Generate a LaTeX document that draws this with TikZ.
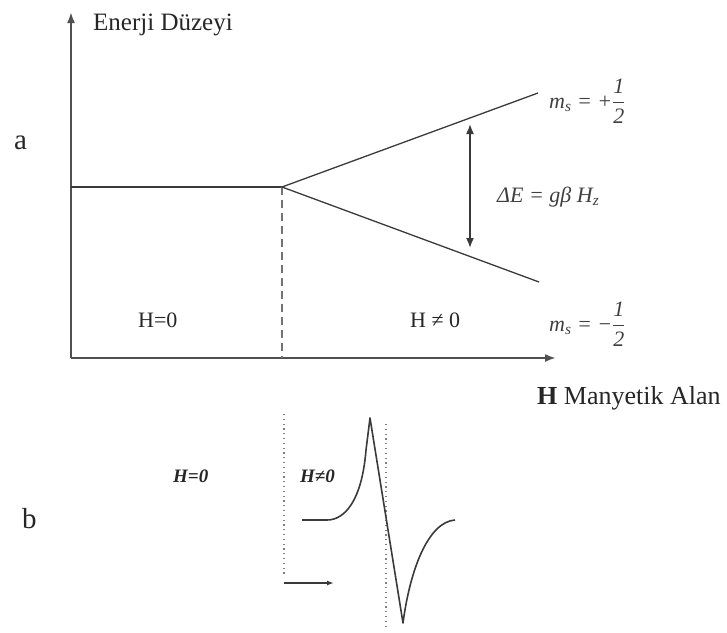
\RequirePackage{fix-cm}
\documentclass[tikz,border=0pt]{standalone}
\usepackage{amsmath}
\usepackage{fontspec}
\setmainfont{Liberation Serif}
\usetikzlibrary{arrows.meta}
\definecolor{ink}{HTML}{3A3A3A}
\definecolor{axisgray}{HTML}{505050}
\begin{document}
\begin{tikzpicture}[x=1pt,y=-1pt,
  axisline/.style={draw=axisgray,line width=2pt,-{Latex[length=11pt,width=8pt]}},
  level/.style={draw=ink,line width=1.3pt},
  dashv/.style={draw=axisgray!80,line width=1.3pt,dash pattern=on 8pt off 5pt},
  dotv/.style={draw=gray,line width=1.2pt,dash pattern=on 1.2pt off 3.6pt},
  gap/.style={draw=ink,line width=1.6pt,{Latex[length=10pt,width=8pt]}-{Latex[length=10pt,width=8pt]}},
  spec/.style={draw=ink,line width=1.6pt,line join=round},
  txt/.style={inner sep=0pt,text=black!85},
  eq/.style={txt,text=black!75,font=\fontsize{22}{26}\selectfont\itshape},
]
\useasboundingbox (0,0) rectangle (727,632);
% ---- part a ----
\coordinate (O) at (71,358);
\coordinate (ytop) at (71,12);
\coordinate (xend) at (556,358);
\coordinate (lvl0) at (71,187);
\coordinate (split) at (282,187);
\coordinate (dbot) at (282,358);
\coordinate (up) at (538,93);
\coordinate (down) at (539,282);
\coordinate (g1) at (470,124);
\coordinate (g2) at (470,248);

\draw[axisline] (O) -- (ytop);
\draw[axisline] (O) -- (xend);
\draw[level] (lvl0) -- (split);
\draw[dashv] (split) -- (dbot);
\draw[level] (split) -- (up);
\draw[level] (split) -- (down);
\draw[gap] (g1) -- (g2);

\node[txt,anchor=base west,font=\fontsize{25}{30}\selectfont] (ylab) at (93,30) {Enerji Düzeyi};
\node[txt,anchor=base west,font=\fontsize{26}{30}\selectfont] (xlab) at (537,404) {\textbf{H} Manyetik Alan};
\node[txt,anchor=base west,font=\fontsize{29}{34}\selectfont] (a) at (14,149) {a};
\node[txt,anchor=base west,font=\fontsize{22}{26}\selectfont] (h0) at (138,327) {H=0};
\node[txt,anchor=base west,font=\fontsize{22}{26}\selectfont] (hn0) at (410,327) {H ≠ 0};
\node[eq,anchor=base west] (dE) at (497,202) {ΔE = gβ H\textsubscript{z}};
\node[eq,anchor=west] (msp) at (549,101) {m\textsubscript{s} = +$\dfrac{\textit{1}}{\textit{2}}$};
\node[eq,anchor=west] (msm) at (549,324) {m\textsubscript{s} = −$\dfrac{\textit{1}}{\textit{2}}$};

% ---- part b ----
\node[txt,anchor=base west,font=\fontsize{29}{34}\selectfont] (b) at (22,528) {b};
\node[txt,anchor=base west,font=\fontsize{19}{22}\selectfont\bfseries\itshape] (bh0) at (173,482) {H=0};
\node[txt,anchor=base west,font=\fontsize{19}{22}\selectfont\bfseries\itshape] (bhn0) at (300,482) {H≠0};

\coordinate (dl1) at (284,414);
\coordinate (dl2) at (284,575);
\coordinate (dr1) at (386,424);
\coordinate (dr2) at (386,630);
\draw[dotv] (dl1) -- (dl2);
\draw[dotv] (dr1) -- (dr2);

\coordinate (s0) at (302,520);
\coordinate (s1) at (327,520);
\coordinate (s2) at (366,450);
\coordinate (peak) at (370,418);
\coordinate (trough) at (403,623);
\coordinate (s3) at (455,520);
\draw[spec] (s0) -- (s1) .. controls (345,520) and (362,500) .. (s2) -- (peak) -- (trough) .. controls (410,570) and (428,522) .. (s3);

\coordinate (ar1) at (284,583);
\coordinate (ar2) at (334,583);
\draw[draw=ink,line width=1.5pt,-{Latex[length=7pt,width=5pt]}] (ar1) -- (ar2);
\end{tikzpicture}
\end{document}
